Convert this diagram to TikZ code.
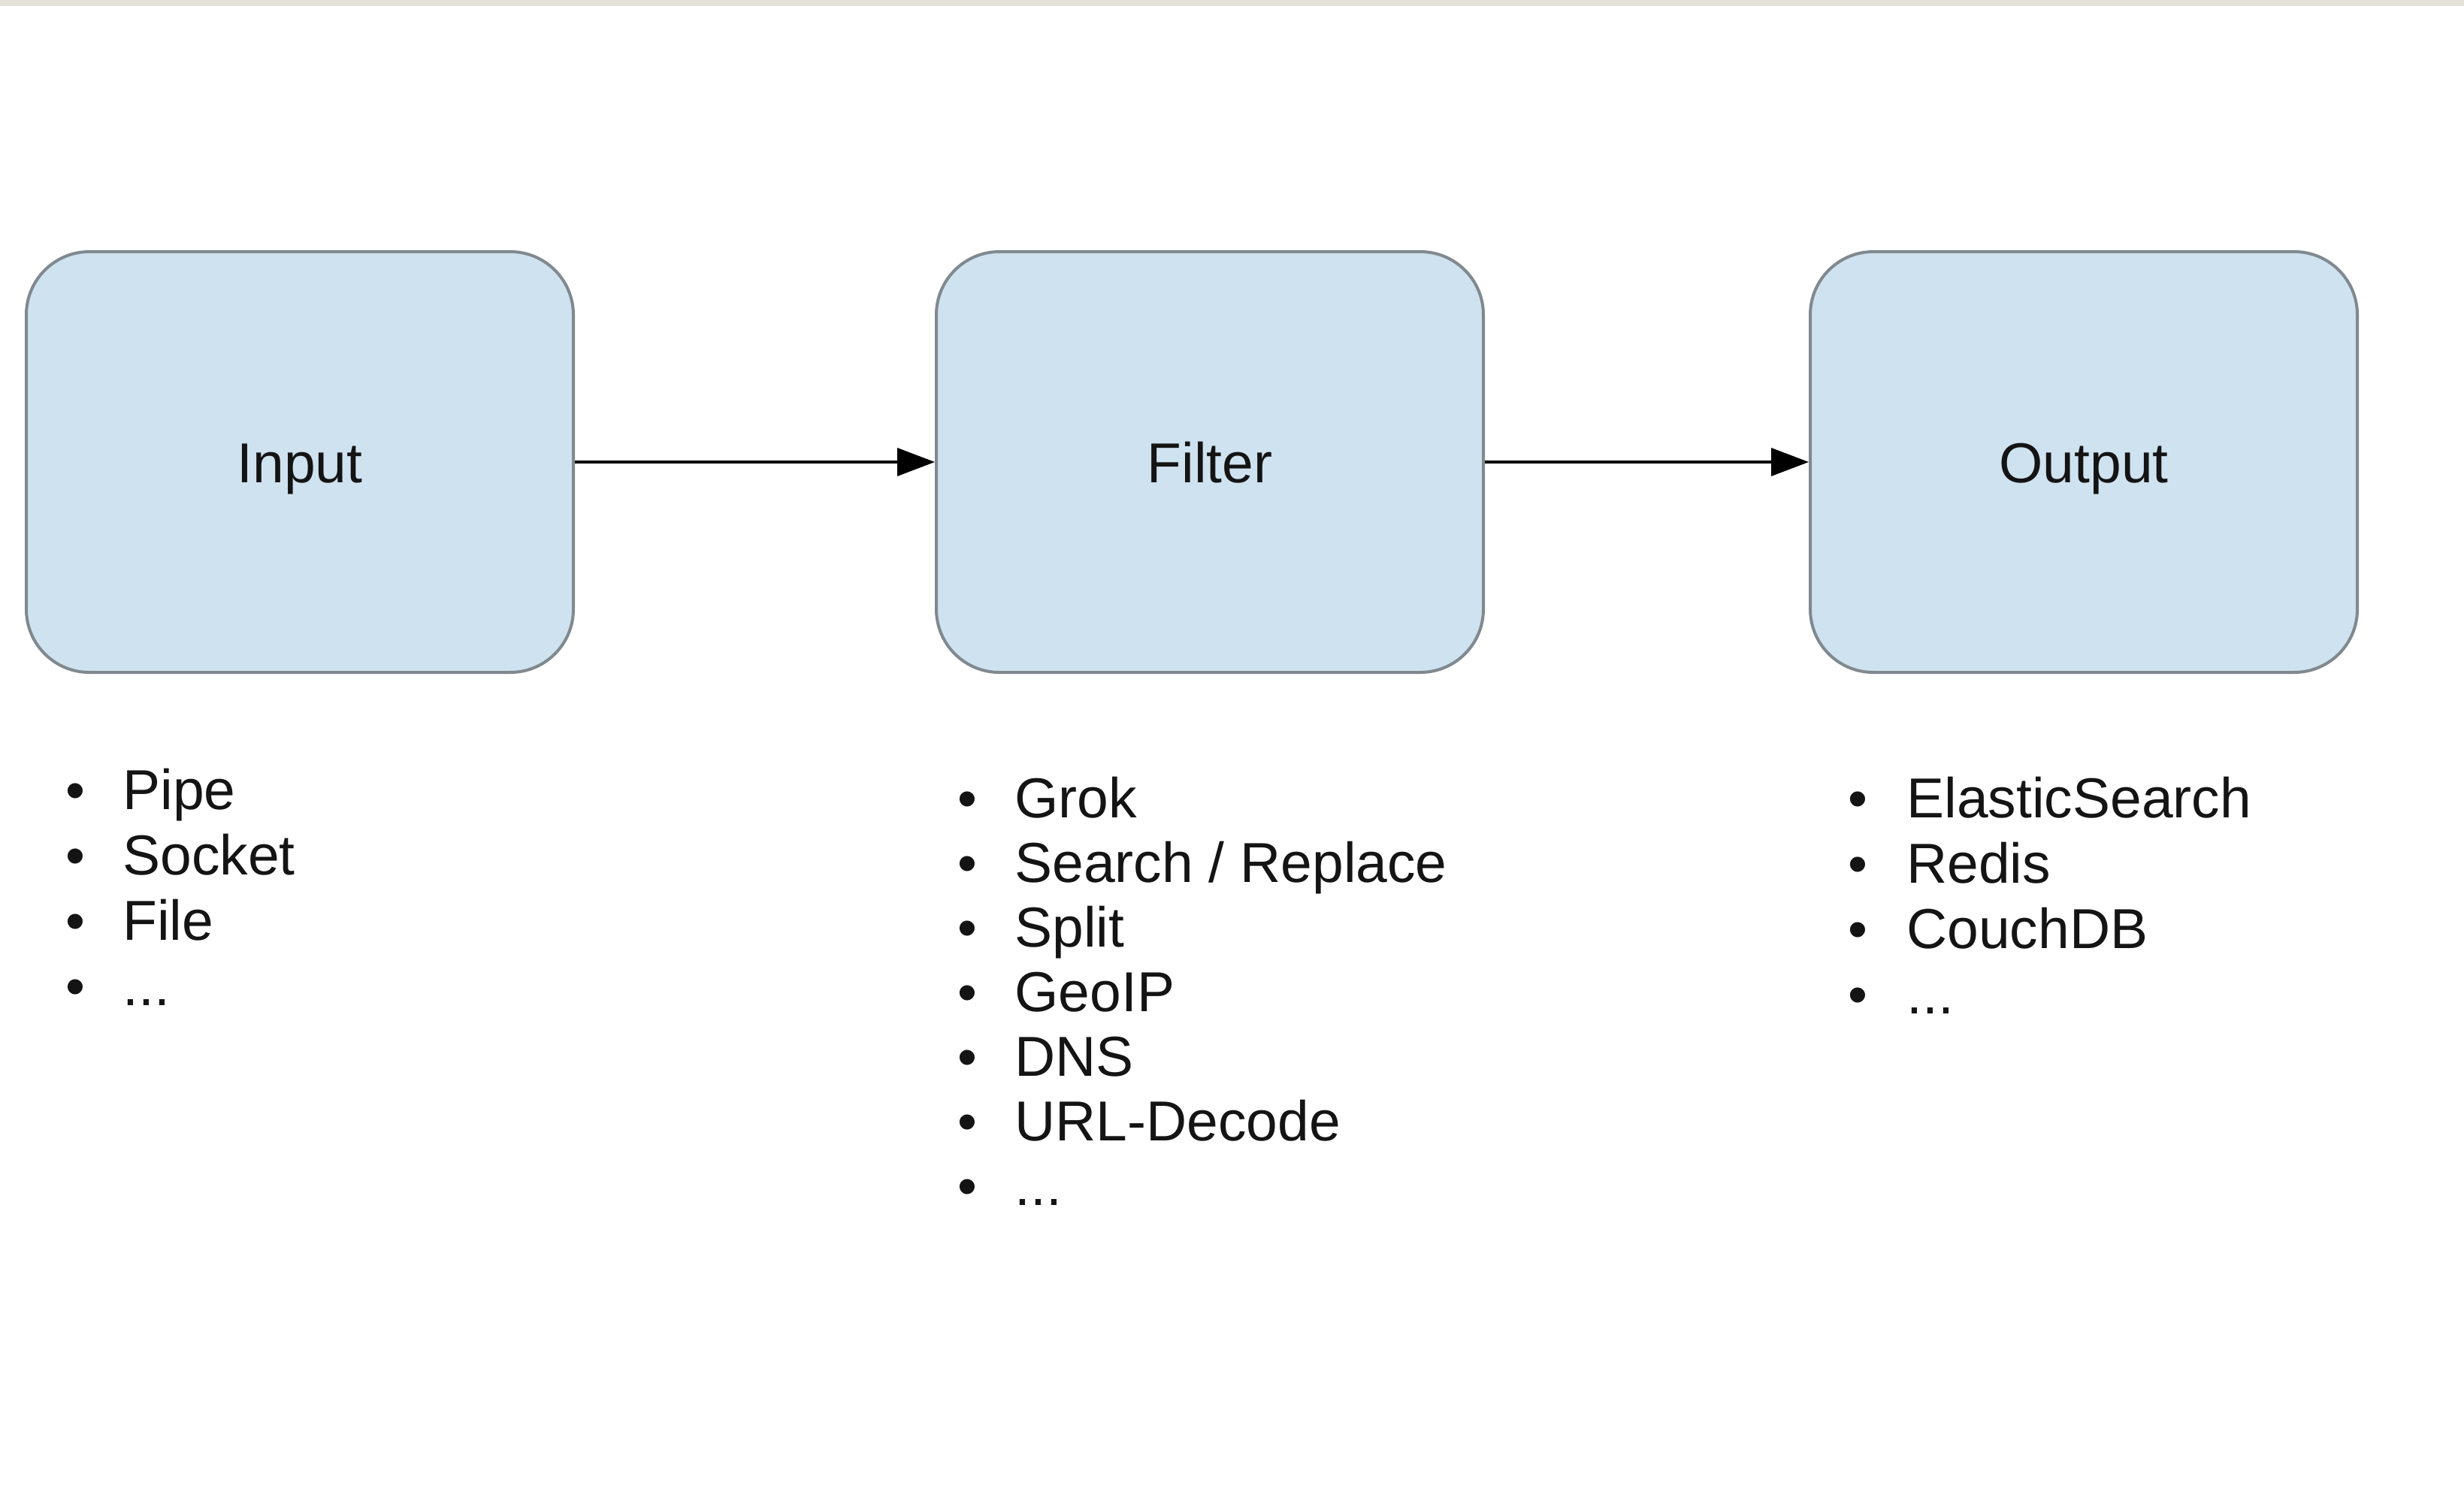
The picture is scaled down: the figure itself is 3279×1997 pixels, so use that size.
\documentclass[tikz,border=0pt]{standalone}
\usepackage{fontspec}
\setmainfont{Liberation Sans}
\usetikzlibrary{arrows.meta}
\definecolor{boxfill}{HTML}{CFE2F0}
\definecolor{boxline}{HTML}{80898F}
\definecolor{topband}{HTML}{E4E1DB}
\definecolor{ink}{HTML}{141414}
\newcommand\mydots{...}
\begin{document}
\begin{tikzpicture}[x=0.5pt,y=-0.5pt,
  stage/.style={draw=boxline, line width=2pt, fill=boxfill, rounded corners=42pt,
    minimum width=364pt, minimum height=280pt, inner sep=0pt,
    text height=27pt, text depth=0pt,
    font=\fontsize{37.5pt}{45pt}\selectfont, text=ink},
  flow/.style={line width=1.8pt, draw=black, -{Triangle[length=25pt,width=18.5pt]}},
  item/.style={anchor=base west, inner sep=0pt, font=\fontsize{37.5pt}{44pt}\selectfont, text=ink},
  dot/.style={anchor=base, inner sep=0pt, font=\fontsize{37pt}{44pt}\selectfont, text=ink}]
\useasboundingbox (0,0) rectangle (3279,1997);
\fill[white] (0,0) rectangle (3279,1997);
\fill[topband] (0,0) rectangle (3279,8);

\node[stage] (input) at (399,615) {Input};
\node[stage] (filter) at (1610,615) {Filter};
\node[stage] (output) at (2773,615) {Output};

\draw[flow] (input.east) -- (filter.west);
\draw[flow] (filter.east) -- (output.west);

% Input list
\foreach \t [count=\i from 0] in {Pipe,Socket,File,\mydots}{
  \node[dot] (inb\i) at (100,1077+87*\i) {•};
  \node[item] (int\i) at (163,1077+87*\i) {\t};
}
% Filter list
\foreach \t [count=\i from 0] in {Grok,Search / Replace,Split,GeoIP,DNS,URL-Decode,\mydots}{
  \node[dot] (fib\i) at (1287,1088+86*\i) {•};
  \node[item] (fit\i) at (1350,1088+86*\i) {\t};
}
% Output list
\foreach \t [count=\i from 0] in {ElasticSearch,Redis,CouchDB,\mydots}{
  \node[dot] (oub\i) at (2472,1088+87*\i) {•};
  \node[item] (out\i) at (2537,1088+87*\i) {\t};
}
\end{tikzpicture}
\end{document}
